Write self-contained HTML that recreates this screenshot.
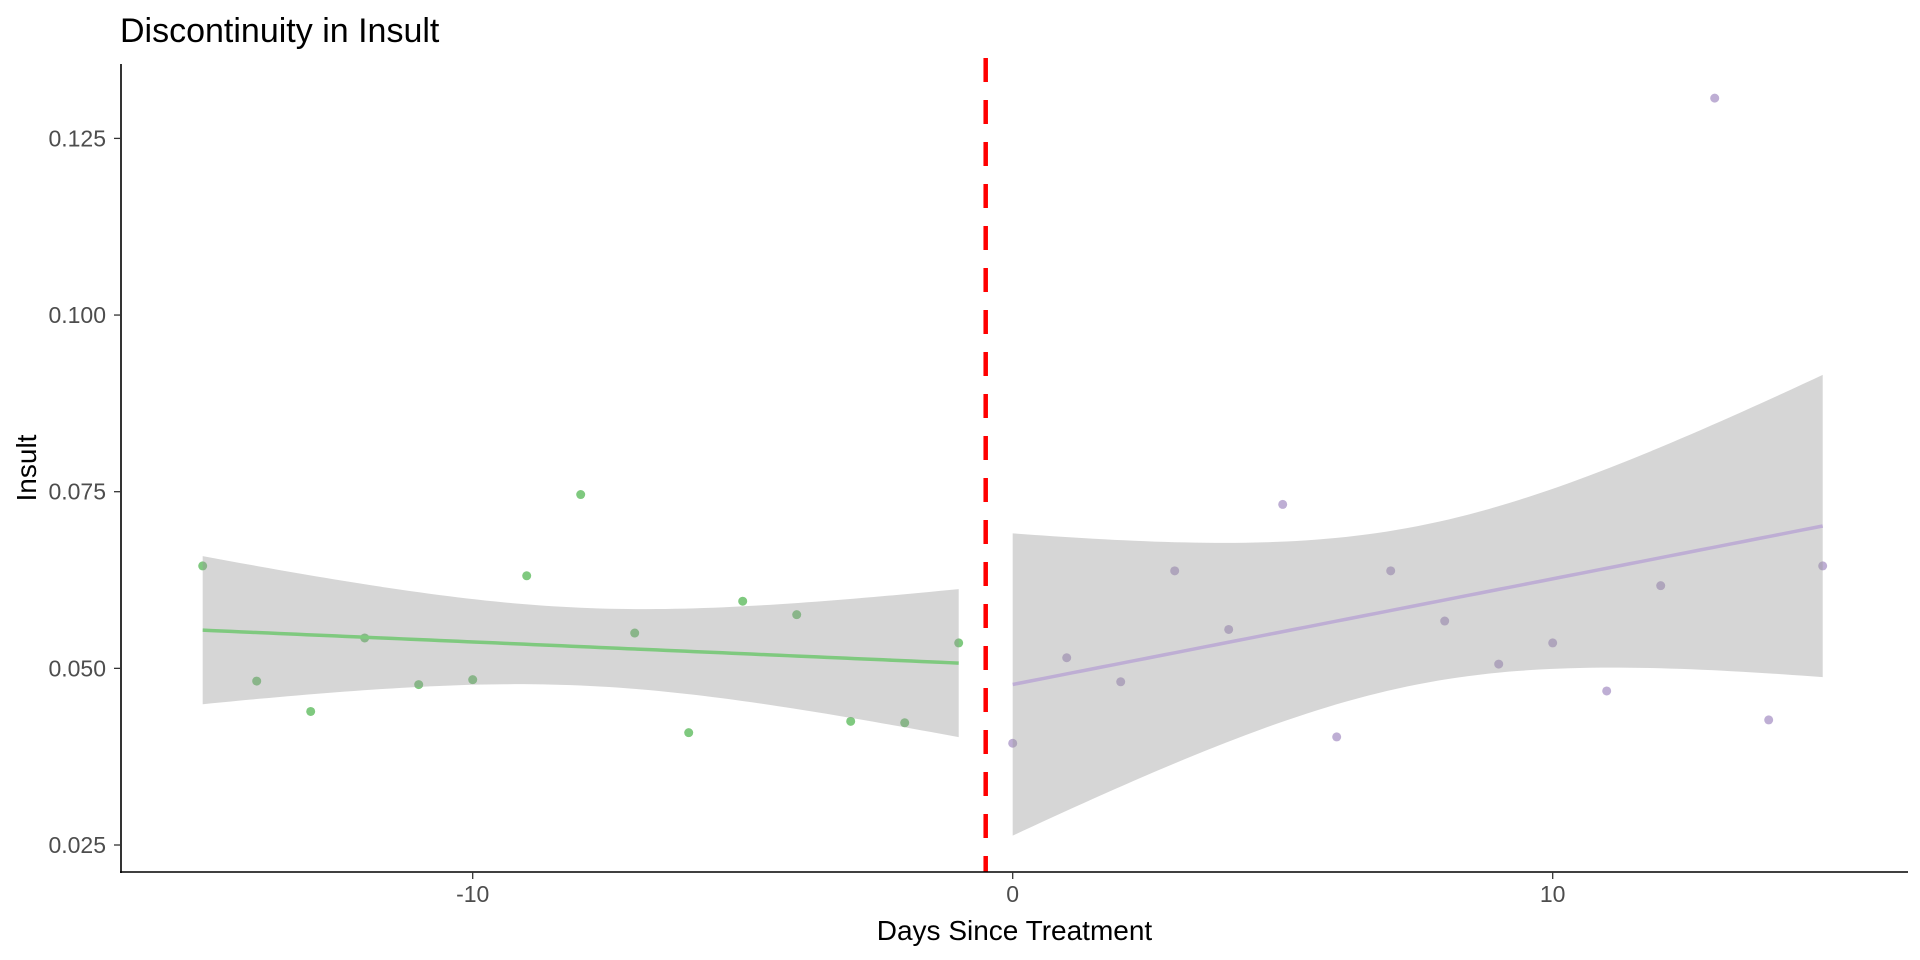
<!DOCTYPE html>
<html><head><meta charset="utf-8"><style>
html,body{margin:0;padding:0;background:#fff;}
svg{display:block;font-family:"Liberation Sans",sans-serif;}
</style></head><body>
<svg id="chart" width="1920" height="960"></svg>
<script>
const daysPre = [-15,-14,-13,-12,-11,-10,-9,-8,-7,-6,-5,-4,-3,-2,-1];
const insultPre = [0.0645,0.0482,0.0439,0.0543,0.0477,0.0484,0.0631,0.0746,0.0550,0.0409,0.0595,0.0576,0.0425,0.0423,0.0536];
const daysPost = [0,1,2,3,4,5,6,7,8,9,10,11,12,13,14,15];
const insultPost = [0.0394,0.0515,0.0481,0.0638,0.0555,0.0732,0.0403,0.0638,0.0567,0.0506,0.0536,0.0468,0.0617,0.1307,0.0427,0.0645];
const yTicks = [0.025,0.050,0.075,0.100,0.125];
const yTickLabels = ["0.025","0.050","0.075","0.100","0.125"];
const xTicks = [-10,0,10];
const xTickLabels = ["-10","0","10"];
const cutoff = -0.5;

const NS="http://www.w3.org/2000/svg";
const svg=document.getElementById('chart');
const L=121,R=1908,T=64,B=872;
const xs=d=>1012.7+d*54.0;
const ys=v=>845-(v-0.025)/0.1*706.6;
function mk(tag,attrs,parent){const e=document.createElementNS(NS,tag);for(const k in attrs)e.setAttribute(k,attrs[k]);(parent||svg).appendChild(e);return e;}

function fit(x,y,t){
  const n=x.length,mx=x.reduce((a,b)=>a+b)/n,my=y.reduce((a,b)=>a+b)/n;
  let sxx=0,sxy=0;for(let i=0;i<n;i++){sxx+=(x[i]-mx)**2;sxy+=(x[i]-mx)*(y[i]-my);}
  const b=sxy/sxx,a=my-b*mx;let sse=0;for(let i=0;i<n;i++)sse+=(y[i]-a-b*x[i])**2;
  const s=Math.sqrt(sse/(n-2));const x0=Math.min(...x),x1=Math.max(...x);
  const up=[],lo=[],ln=[];
  for(let k=0;k<=80;k++){const xx=x0+(x1-x0)*k/80;const yh=a+b*xx;const se=s*Math.sqrt(1/n+(xx-mx)**2/sxx);
    ln.push([xx,yh]);up.push([xx,yh+t*se]);lo.push([xx,yh-t*se]);}
  return {ln,up,lo};
}

const title=mk('text',{x:120,y:42,'font-size':34,fill:'#000'});title.textContent='Discontinuity in Insult';



function group(x,y,col,t,name){
  const g=mk('g',{});
  
  
  x.forEach((d,i)=>{const c=mk('circle',{cx:xs(d),cy:ys(y[i]),r:4.5,fill:col},g);
    
    });
  const f=fit(x,y,t);
  const pts=f.up.map(p=>xs(p[0])+','+ys(p[1])).concat(f.lo.slice().reverse().map(p=>xs(p[0])+','+ys(p[1])));
  const rib=mk('polygon',{points:pts.join(' '),fill:'#999999','fill-opacity':0.4},g);
  
  
  const ln=mk('polyline',{points:f.ln.map(p=>xs(p[0])+','+ys(p[1])).join(' '),fill:'none',stroke:col,'stroke-width':3.5},g);
  
  
}
group(daysPre,insultPre,'#7fc97f',2.160,'pre-treatment');
group(daysPost,insultPost,'#beaed4',2.145,'post-treatment');

const cl=mk('line',{x1:xs(cutoff),x2:xs(cutoff),y1:T-6,y2:B,stroke:'#ff0000','stroke-width':4.5,'stroke-dasharray':'24 18'});



const ya=mk('line',{x1:L,x2:L,y1:T,y2:B+1,stroke:'#000','stroke-width':1.6});


const xa=mk('line',{x1:L-1,x2:R,y1:B,y2:B,stroke:'#000','stroke-width':1.6});


yTicks.forEach((v,i)=>{
  const t=mk('line',{x1:L-7,x2:L,y1:ys(v),y2:ys(v),stroke:'#333','stroke-width':1.3});
  
  
  const tx=mk('text',{x:L-15,y:ys(v)+8,'font-size':23,fill:'#4d4d4d','text-anchor':'end'});tx.textContent=yTickLabels[i];
  
  
});
xTicks.forEach((d,i)=>{
  const t=mk('line',{x1:xs(d),x2:xs(d),y1:B,y2:B+7,stroke:'#333','stroke-width':1.3});
  
  
  const tx=mk('text',{x:xs(d),y:B+30,'font-size':23,fill:'#4d4d4d','text-anchor':'middle'});tx.textContent=xTickLabels[i];
  
  
});
const xt=mk('text',{x:(L+R)/2,y:B+68,'font-size':28,fill:'#000','text-anchor':'middle'});xt.textContent='Days Since Treatment';


const yt=mk('text',{x:0,y:0,'font-size':28,fill:'#000','text-anchor':'middle',transform:'translate(36,'+((T+B)/2)+') rotate(-90)'});yt.textContent='Insult';


</script>
</body></html>
